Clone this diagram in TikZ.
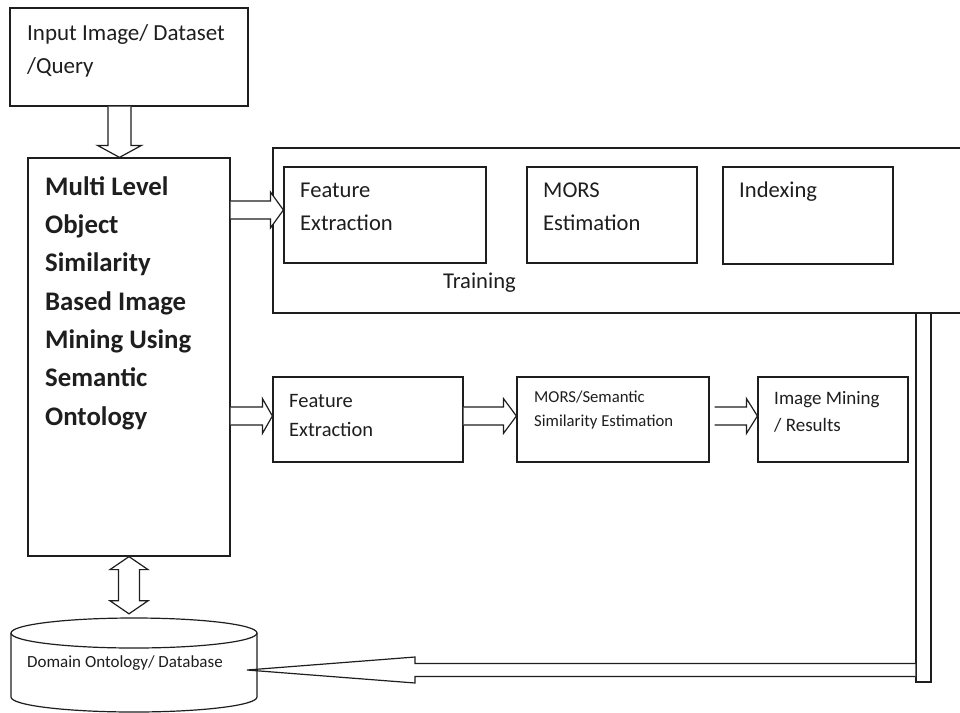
\documentclass[tikz,border=0pt]{standalone}
\usepackage{fontspec}
\setmainfont{Carlito}
\usetikzlibrary{calc,fit}

\definecolor{ink}{HTML}{1E1E1E}

% block arrows: #1 start, #2 tip, #3 shaft half width, #4 head half width, #5 head length
\newcommand\rightblock[5]{%
  \draw[blk] let \p1=(#1), \p2=(#2) in
    (\x1,\y2+#3) -- (\x2-#5,\y2+#3) -- (\x2-#5,\y2+#4) -- (\x2,\y2)
    -- (\x2-#5,\y2-#4) -- (\x2-#5,\y2-#3) -- (\x1,\y2-#3);}
\newcommand\leftblock[5]{%
  \draw[blk] let \p1=(#1), \p2=(#2) in
    (\x1,\y2+#3) -- (\x2+#5,\y2+#3) -- (\x2+#5,\y2+#4) -- (\x2,\y2)
    -- (\x2+#5,\y2-#4) -- (\x2+#5,\y2-#3) -- (\x1,\y2-#3);}
\newcommand\downblock[5]{%
  \draw[blk] let \p1=(#1), \p2=(#2) in
    (\x2+#3,\y1) -- (\x2+#3,\y2+#5) -- (\x2+#4,\y2+#5) -- (\x2,\y2)
    -- (\x2-#4,\y2+#5) -- (\x2-#3,\y2+#5) -- (\x2-#3,\y1);}
\newcommand\updownblock[5]{%
  \draw[blk] let \p1=(#1), \p2=(#2) in
    (\x1,\y1) -- (\x1+#4,\y1-#5) -- (\x1+#3,\y1-#5) -- (\x1+#3,\y2+#5)
    -- (\x1+#4,\y2+#5) -- (\x1,\y2) -- (\x1-#4,\y2+#5) -- (\x1-#3,\y2+#5)
    -- (\x1-#3,\y1-#5) -- (\x1-#4,\y1-#5) -- cycle;}

\begin{document}
\begin{tikzpicture}[x=1pt,y=-1pt,
  line/.style={draw=ink,line width=1.2pt},
  box/.style={line,rectangle,inner sep=0pt},
  blk/.style={line,fill=white,line join=miter},
  txt/.style={inner sep=0pt,anchor=base west,align=left,text=ink},
  big/.style={txt,font=\fontsize{22.6}{33}\selectfont},
  bold/.style={txt,font=\fontsize{26.8}{38.3}\selectfont\bfseries},
]
\useasboundingbox (0,0) rectangle (960,712);

% boxes
\node[box,fit={(10,8)(248,106)}] (input) {};
\node[box,fit={(28,158)(230,556)}] (main) {};
\node[box,fit={(273,148)(990,313)}] (train) {};
\node[box,fit={(284,167)(486,263)}] (tfe) {};
\node[box,fit={(527,167)(697,263)}] (tmors) {};
\node[box,fit={(723,167)(893,264)}] (tidx) {};
\node[box,fit={(273,377)(463,462)}] (fe) {};
\node[box,fit={(517,377)(709,462)}] (ms) {};
\node[box,fit={(758,377)(908,462)}] (im) {};
\node[box,fit={(916,313)(931,682)}] (bar) {};

% database cylinder
\node[inner sep=0pt,fit={(11,618)(257,712)}] (db) {};
\draw[line,fill=white] (11,633) -- (11,697)
  arc[start angle=180,end angle=0,x radius=123,y radius=15] -- (257,633);
\draw[line,fill=white] (134,633) ellipse[x radius=123,y radius=15];
\coordinate (dbtip) at (247,670);

% texts (placed by the baseline of their last line)
\node[txt,font=\fontsize{23}{33}\selectfont] (input-t) at (27,73) {Input Image/ Dataset\\/Query};
\node[bold] (main-t) at (45,425) {Multi Level\\Object\\Similarity\\Based Image\\Mining Using\\Semantic\\Ontology};
\node[big] (tfe-t) at (300,230) {Feature\\Extraction};
\node[big] (tmors-t) at (543,230) {MORS\\Estimation};
\node[big] (tidx-t) at (739,197) {Indexing};
\node[big] (train-t) at (443,288) {Training};
\node[txt,font=\fontsize{20.5}{29}\selectfont] (fe-t) at (289,436) {Feature\\Extraction};
\node[txt,font=\fontsize{16.7}{24}\selectfont] (ms-t) at (534,426) {MORS/Semantic\\Similarity Estimation};
\node[txt,font=\fontsize{19}{27}\selectfont] (im-t) at (774,431) {Image Mining\\/ Results};
\node[txt,font=\fontsize{17}{20}\selectfont] (db-t) at (27,667) {Domain Ontology/ Database};

% connectors
\downblock{input.south}{$(main.north)+(-9.5,0)$}{11.5pt}{22pt}{12pt}
\rightblock{main.east}{$(tfe.west)+(0,-5)$}{9pt}{18pt}{13pt}
\rightblock{main.east}{$(fe.west)+(0,-3.5)$}{9pt}{17.5pt}{10pt}
\rightblock{fe.east}{$(ms.west)+(0,-3.5)$}{9pt}{17.5pt}{13pt}
\rightblock{$(ms.east)+(5,0)$}{$(im.west)+(0,-3.5)$}{9pt}{17.5pt}{11pt}
\updownblock{main.south}{$(main.south |- db.north)+(0,-4)$}{10.5pt}{19pt}{13pt}
\leftblock{bar.west}{dbtip}{6.5pt}{13pt}{168pt}
\end{tikzpicture}
\end{document}
